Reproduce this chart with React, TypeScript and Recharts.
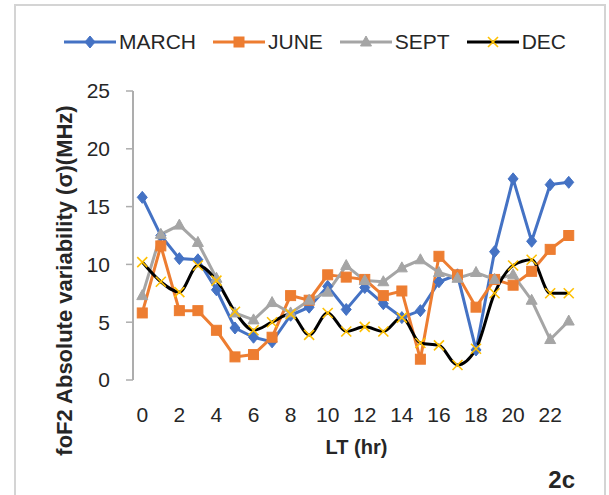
import React from 'react';
import { LineChart, Line, XAxis, YAxis } from 'recharts';

const hours = [0, 1, 2, 3, 4, 5, 6, 7, 8, 9, 10, 11, 12, 13, 14, 15, 16, 17, 18, 19, 20, 21, 22, 23];
const march = [15.8, 12.5, 10.5, 10.4, 7.8, 4.5, 3.7, 3.3, 5.6, 6.3, 8.1, 6.1, 8.0, 6.6, 5.4, 6.0, 8.5, 9.1, 2.6, 11.1, 17.4, 12.0, 16.9, 17.1];
const june = [5.8, 11.6, 6.0, 6.0, 4.3, 2.0, 2.2, 3.7, 7.3, 6.9, 9.1, 8.9, 8.7, 7.3, 7.7, 1.8, 10.7, 9.1, 6.3, 8.7, 8.2, 9.4, 11.3, 12.5];
const sept = [7.3, 12.6, 13.4, 11.9, 8.8, 5.8, 5.2, 6.7, 5.8, 6.9, 7.6, 9.9, 8.6, 8.5, 9.7, 10.4, 9.3, 8.8, 9.3, 8.7, 9.1, 6.9, 3.5, 5.1];
const dec = [10.2, 8.5, 7.6, 9.9, 8.6, 5.9, 4.3, 5.0, 5.7, 3.9, 5.8, 4.2, 4.6, 4.2, 5.4, 3.2, 3.0, 1.3, 2.7, 7.5, 9.9, 10.4, 7.5, 7.5];
const xLabelTicks = [0, 2, 4, 6, 8, 10, 12, 14, 16, 18, 20, 22];
const xBoundaryTicks = [-0.5, 0.5, 1.5, 2.5, 3.5, 4.5, 5.5, 6.5, 7.5, 8.5, 9.5, 10.5, 11.5, 12.5, 13.5, 14.5, 15.5, 16.5, 17.5, 18.5, 19.5, 20.5, 21.5, 22.5, 23.5];
const yTicks = [0, 5, 10, 15, 20, 25];

const data = hours.map((h, i) => ({ hr: h, MARCH: march[i], JUNE: june[i], SEPT: sept[i], DEC: dec[i] }));

const C_MARCH = '#4472C4';
const C_JUNE = '#ED7D31';
const C_SEPT = '#A5A5A5';
const C_DEC = '#000000';
const C_DECM = '#FFC000';
const FONT = '"Liberation Sans", Arial, sans-serif';
const TEXT = '#262626';
const AXIS = '#ADADAD';

const Diamond = ({ cx, cy }: any) => (
  <polygon points={`${cx},${cy - 6} ${cx + 5},${cy} ${cx},${cy + 6} ${cx - 5},${cy}`} fill={C_MARCH} stroke={C_MARCH} strokeWidth={1} />
);
const Square = ({ cx, cy }: any) => (
  <rect x={cx - 5} y={cy - 5} width={10} height={10} fill={C_JUNE} stroke={C_JUNE} strokeWidth={1} />
);
const Triangle = ({ cx, cy }: any) => (
  <polygon points={`${cx},${cy - 6} ${cx + 5.5},${cy + 4} ${cx - 5.5},${cy + 4}`} fill={C_SEPT} stroke={C_SEPT} strokeWidth={1} />
);
const Cross = ({ cx, cy }: any) => (
  <g stroke={C_DECM} strokeWidth={1.6}>
    <line x1={cx - 5} y1={cy - 5} x2={cx + 5} y2={cy + 5} />
    <line x1={cx - 5} y1={cy + 5} x2={cx + 5} y2={cy - 5} />
  </g>
);

const mk = (Comp: any) => (props: any) => {
  const { cx, cy, index } = props;
  if (cx == null || cy == null) return <g key={`k-${index}`} />;
  return <g key={`k-${index}`}><Comp cx={cx} cy={cy} /></g>;
};

const legendItems = [
  { name: 'MARCH', color: C_MARCH, M: Diamond },
  { name: 'JUNE', color: C_JUNE, M: Square },
  { name: 'SEPT', color: C_SEPT, M: Triangle },
  { name: 'DEC', color: C_DEC, M: Cross },
];

export default function App() {
  return (
    <div style={{ position: 'absolute', left: 0, top: 0, width: 609, height: 495, background: '#fff', overflow: 'hidden', fontFamily: FONT }}>
      <div style={{ position: 'absolute', left: 14, top: 4, width: 592, height: 520, border: '2px solid #D4D4D4', boxSizing: 'border-box' }} />
      <div style={{ position: 'absolute', left: 0, top: 29, width: 630, height: 26, display: 'flex', justifyContent: 'center', alignItems: 'center', gap: 17 }}>
        {legendItems.map((it) => (
          <div key={it.name} style={{ display: 'flex', alignItems: 'center' }}>
            <svg width={52} height={20} style={{ display: 'block' }}>
              <line x1={0} y1={10} x2={52} y2={10} stroke={it.color} strokeWidth={3} />
              <it.M cx={26} cy={10} />
            </svg>
            <span style={{ marginLeft: 3, fontSize: 21, color: TEXT, lineHeight: '26px' }}>{it.name}</span>
          </div>
        ))}
      </div>
      <div style={{ position: 'absolute', left: 0, top: 0 }}>
        <LineChart width={609} height={495} data={data} margin={{ top: 91, right: 31, left: 15, bottom: 0 }}>
          <XAxis
            xAxisId="t"
            type="number"
            dataKey="hr"
            domain={[-0.5, 23.5]}
            ticks={xBoundaryTicks}
            tick={false}
            tickSize={6}
            height={0}
            axisLine={{ stroke: AXIS, strokeWidth: 2 }}
            tickLine={{ stroke: AXIS, strokeWidth: 1.5 }}
          />
          <XAxis
            xAxisId="l"
            type="number"
            dataKey="hr"
            domain={[-0.5, 23.5]}
            ticks={xLabelTicks}
            interval={0}
            height={115}
            axisLine={false}
            tickLine={false}
            tickSize={0}
            tickMargin={27}
            tick={{ fontSize: 21, fill: TEXT, fontFamily: FONT }}
            label={{
              content: (p: any) => {
                const vb = p.viewBox || {};
                return (
                  <text x={vb.x + vb.width / 2 + 1} y={vb.y + 74} textAnchor="middle" fontSize={20} fontWeight="bold" fill={TEXT} fontFamily={FONT}>
                    LT (hr)
                  </text>
                );
              },
            }}
          />
          <YAxis
            type="number"
            domain={[0, 25]}
            ticks={yTicks}
            width={118}
            tickSize={7}
            tickMargin={16}
            axisLine={{ stroke: AXIS, strokeWidth: 2 }}
            tickLine={{ stroke: AXIS, strokeWidth: 1.5 }}
            tick={{ fontSize: 21, fill: TEXT, fontFamily: FONT }}
            label={{
              content: (p: any) => {
                const vb = p.viewBox || {};
                const x = vb.x + 57;
                const y = vb.y + vb.height / 2 + 45;
                return (
                  <text x={x} y={y} transform={`rotate(-90, ${x}, ${y})`} textAnchor="middle" fontSize={22} fontWeight="bold" fill={TEXT} fontFamily={FONT}>
                    foF2 Absolute variability (σ)(MHz)
                  </text>
                );
              },
            }}
          />
          <Line xAxisId="l" dataKey="MARCH" stroke={C_MARCH} strokeWidth={3} type="linear" dot={mk(Diamond)} activeDot={false} isAnimationActive={false} />
          <Line xAxisId="l" dataKey="JUNE" stroke={C_JUNE} strokeWidth={3} type="linear" dot={mk(Square)} activeDot={false} isAnimationActive={false} />
          <Line xAxisId="l" dataKey="SEPT" stroke={C_SEPT} strokeWidth={3} type="linear" dot={mk(Triangle)} activeDot={false} isAnimationActive={false} />
          <Line xAxisId="l" dataKey="DEC" stroke={C_DEC} strokeWidth={3} type="monotone" dot={mk(Cross)} activeDot={false} isAnimationActive={false} />
        </LineChart>
      </div>
      <div style={{ position: 'absolute', right: 34, top: 466, fontSize: 24, fontWeight: 'bold', color: TEXT, lineHeight: '28px' }}>2c</div>
    </div>
  );
}
